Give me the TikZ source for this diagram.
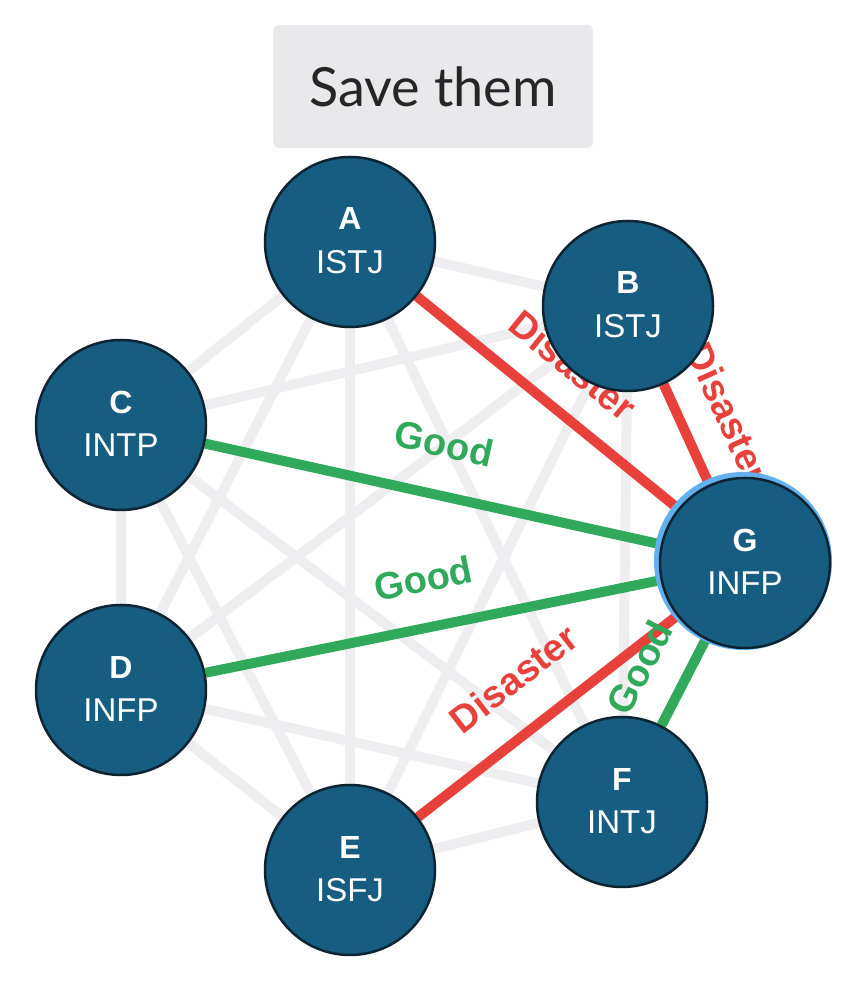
\documentclass[tikz,border=0pt]{standalone}
\usepackage{fontspec}
\setmainfont{Liberation Sans}
\newfontfamily\btnfont{Lato}
\usetikzlibrary{backgrounds}
\definecolor{nodeblue}{HTML}{175D82}
\definecolor{nodeline}{HTML}{0E2433}
\definecolor{edgegray}{HTML}{EEEEF1}
\definecolor{bad}{HTML}{E8403B}
\definecolor{good}{HTML}{31A95A}
\definecolor{btngray}{HTML}{E9E9EB}
\definecolor{glow}{HTML}{62B0EE}
\tikzset{
  person/.style={circle, draw=nodeline, line width=2.5pt, fill=nodeblue,
    minimum size=170pt, inner sep=0pt},
  glowing/.style={preaction={draw=glow, line width=8pt, transform canvas={xshift=-2pt, yshift=2pt}}},
  letter/.style={text=white, inner sep=0pt, font=\bfseries\fontsize{32}{32}\selectfont},
  mbti/.style={text=white, inner sep=0pt, font=\fontsize{33}{33}\selectfont},
  bg edge/.style={edgegray, line width=10pt},
  verdict/.style={sloped, anchor=south, inner xsep=0pt,
    font=\bfseries\fontsize{38}{38}\selectfont},
  btn/.style={fill=btngray, rounded corners=6pt, minimum width=320pt, minimum height=123pt,
    text=black!85, font=\btnfont\fontsize{54}{54}\selectfont}
}
\begin{document}
\begin{tikzpicture}[x=1pt, y=1pt]
  \useasboundingbox (0,0) rectangle (866,981); % размер картинки

  \node[btn] (save) at (433,894.5) {Save them}; % кнопка сверху

  % узлы A..F: имя/x/y/тип
  \foreach \n/\x/\y/\t in {A/350/739/ISTJ, B/628/675/ISTJ, C/121/556/INTP,
                           D/121/291/INFP, E/350/111/ISFJ, F/622/179/INTJ} {
    \node[person] (\n) at (\x,\y) {};
    \node[letter] (\n-name) at ([yshift=23pt]\n.center) {\n};
    \node[mbti] (\n-type) at ([yshift=-20pt]\n.center) {\t};
  }
  % узел G светится
  \node[person, glowing] (G) at (745,418) {};
  \node[letter] (G-name) at ([yshift=23pt]G.center) {G};
  \node[mbti] (G-type) at ([yshift=-20pt]G.center) {INFP};

  \begin{pgfonlayer}{background}
    % серая сетка: все пары без G
    \foreach \a/\rest in {A/{B,C,D,E,F}, B/{C,D,E,F}, C/{D,E,F}, D/{E,F}, E/{F}}
      \foreach \b in \rest
        \draw[bg edge] (\a) -- (\b);

    % связи с G: откуда/цвет/подпись/позиция/отступ
    \foreach \a/\c/\w/\p/\d in {A/bad/Disaster/0.49/26, B/bad/Disaster/0.48/28,
                                C/good/Good/0.5/33, D/good/Good/0.5/30,
                                E/bad/Disaster/0.49/32, F/good/Good/0.43/27}
      \draw[\c, line width=10pt] (\a) -- node[verdict, pos=\p, inner ysep=\d pt, text=\c] {\w} (G);
  \end{pgfonlayer}
\end{tikzpicture}
\end{document}
